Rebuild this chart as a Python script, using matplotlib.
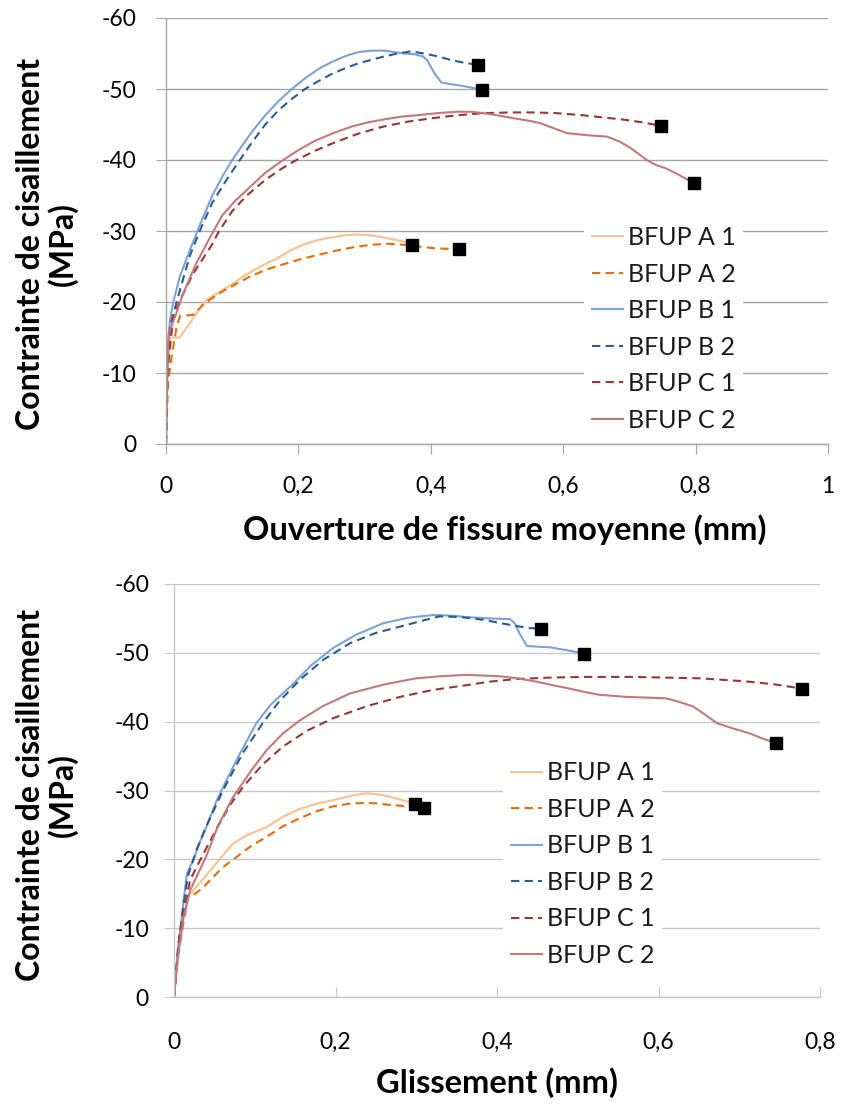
import matplotlib
matplotlib.use("Agg")
import matplotlib.pyplot as plt

plt.rcParams['font.family'] = ['Lato', 'DejaVu Sans']

# Données : ouverture de fissure moyenne (mm) / contrainte (MPa)
ouv_A1_x = [0, 0.002, 0.006, 0.021, 0.028, 0.036, 0.05, 0.061, 0.08, 0.101, 0.12, 0.137, 0.155, 0.167, 0.185,
            0.205, 0.228, 0.25, 0.27, 0.288, 0.31, 0.328, 0.345, 0.364, 0.372]
ouv_A1_y = [0, -10, -15, -15, -16, -17, -19, -20.3, -21.4, -22.6, -23.8, -24.7, -25.6, -26.1, -27.1,
            -28.0, -28.7, -29.1, -29.4, -29.5, -29.4, -29.1, -28.8, -28.4, -28.0]
ouv_A2_x = [0, 0.003, 0.008, 0.016, 0.021, 0.041, 0.055, 0.066, 0.08, 0.101, 0.125, 0.152, 0.177, 0.202,
            0.228, 0.26, 0.288, 0.315, 0.338, 0.355, 0.373, 0.403, 0.443]
ouv_A2_y = [0, -8.6, -12, -16.5, -18.0, -18.2, -19.5, -20.3, -21.2, -22.3, -23.5, -24.6, -25.3, -26.0,
            -26.6, -27.3, -27.8, -28.1, -28.2, -28.1, -27.9, -27.6, -27.4]
ouv_B1_x = [0, 0.001, 0.003, 0.006, 0.011, 0.021, 0.036, 0.05, 0.07, 0.086, 0.1, 0.115, 0.13, 0.15, 0.17,
            0.19, 0.21, 0.23, 0.25, 0.27, 0.29, 0.31, 0.33, 0.345, 0.36, 0.375, 0.388, 0.395, 0.405,
            0.416, 0.429, 0.45, 0.477]
ouv_B1_y = [0, -8, -14, -17.5, -20, -23.6, -27.3, -30.6, -35, -37.8, -40, -42, -44, -46.3, -48.3,
            -50, -51.5, -52.8, -53.8, -54.6, -55.2, -55.4, -55.4, -55.2, -55.0, -54.9, -54.6, -54.0, -52.3,
            -50.9, -50.7, -50.4, -49.9]
ouv_B2_x = [0, 0.002, 0.006, 0.014, 0.026, 0.036, 0.05, 0.07, 0.09, 0.11, 0.13, 0.15, 0.17, 0.19, 0.21,
            0.23, 0.25, 0.27, 0.29, 0.31, 0.33, 0.35, 0.37, 0.39, 0.41, 0.43, 0.45, 0.472]
ouv_B2_y = [0, -10, -16.5, -19.3, -23.3, -26.5, -29.8, -34, -37, -39.8, -42.5, -45.0, -47.0, -48.6, -50.0,
            -51.1, -52.1, -52.9, -53.6, -54.1, -54.6, -55.0, -55.3, -55.0, -54.6, -54.1, -53.7, -53.4]
ouv_C1_x = [0, 0.002, 0.011, 0.025, 0.041, 0.055, 0.069, 0.079, 0.1, 0.122, 0.15, 0.175, 0.197, 0.225,
            0.253, 0.29, 0.328, 0.365, 0.403, 0.44, 0.479, 0.52, 0.554, 0.59, 0.63, 0.66, 0.69, 0.72, 0.748]
ouv_C1_y = [0, -10, -18, -21, -24, -26, -28, -29.8, -32.8, -35, -37.2, -38.8, -40, -41.3,
            -42.4, -43.7, -44.7, -45.4, -45.9, -46.3, -46.6, -46.7, -46.7, -46.6, -46.3, -46.0, -45.7, -45.3, -44.8]
ouv_C2_x = [0, 0.002, 0.004, 0.014, 0.026, 0.046, 0.066, 0.085, 0.105, 0.127, 0.15, 0.177, 0.2, 0.225,
            0.253, 0.28, 0.305, 0.328, 0.355, 0.379, 0.41, 0.439, 0.46, 0.479, 0.5, 0.53, 0.55, 0.565,
            0.585, 0.605, 0.635, 0.666, 0.685, 0.7, 0.715, 0.726, 0.74, 0.756, 0.775, 0.792, 0.798]
ouv_C2_y = [0, -10, -15.6, -18.0, -21.2, -25.5, -29.0, -32.2, -34.3, -36.2, -38.2, -40.0, -41.4, -42.7,
            -43.8, -44.7, -45.3, -45.7, -46.1, -46.3, -46.6, -46.8, -46.8, -46.6, -46.3, -45.8, -45.5, -45.2,
            -44.5, -43.8, -43.5, -43.3, -42.6, -41.8, -40.8, -40.0, -39.3, -38.8, -37.9, -37.0, -36.7]

# Glissement (mm) / contrainte (MPa)
gli_A1_x = [0, 0.005, 0.012, 0.018, 0.024, 0.035, 0.045, 0.06, 0.073, 0.09, 0.115, 0.135, 0.155, 0.177,
            0.197, 0.218, 0.238, 0.255, 0.267, 0.283, 0.298]
gli_A1_y = [0, -7, -12, -14.8, -15.5, -17, -18.4, -20.5, -22.3, -23.5, -24.7, -26.2, -27.3, -28.1,
            -28.6, -29.2, -29.6, -29.4, -29.1, -28.6, -28.1]
gli_A2_x = [0, 0.005, 0.012, 0.018, 0.024, 0.035, 0.045, 0.06, 0.078, 0.095, 0.115, 0.135, 0.156, 0.177,
            0.197, 0.218, 0.238, 0.255, 0.267, 0.28, 0.292, 0.31]
gli_A2_y = [0, -6, -11, -14.8, -14.8, -15.8, -17.0, -18.8, -20.4, -21.9, -23.3, -24.8, -26.0, -27.0,
            -27.7, -28.1, -28.2, -28.1, -27.9, -27.8, -27.6, -27.4]
gli_B1_x = [0, 0.005, 0.012, 0.016, 0.024, 0.032, 0.040, 0.053, 0.065, 0.08, 0.102, 0.12, 0.144, 0.17,
            0.197, 0.225, 0.259, 0.29, 0.321, 0.345, 0.362, 0.39, 0.416, 0.422, 0.428, 0.437, 0.45, 0.466,
            0.49, 0.508]
gli_B1_y = [0, -7, -14.1, -18.0, -19.9, -22.5, -24.7, -28.6, -31.5, -35, -39.8, -42.5, -45.1, -48.2,
            -50.7, -52.6, -54.3, -55.1, -55.5, -55.4, -55.2, -55.0, -54.9, -54.3, -52.8, -51.0, -50.9, -50.8,
            -50.3, -49.9]
gli_B2_x = [0, 0.005, 0.012, 0.017, 0.028, 0.04, 0.061, 0.085, 0.11, 0.13, 0.156, 0.185, 0.218, 0.25,
            0.28, 0.305, 0.329, 0.355, 0.383, 0.405, 0.424, 0.44, 0.454]
gli_B2_y = [0, -7, -13.5, -17.5, -21.4, -24.8, -30.1, -35.4, -39.8, -42.9, -46.1, -49.0, -51.4, -52.9,
            -53.8, -54.6, -55.3, -55.2, -54.8, -54.3, -53.9, -53.6, -53.5]
gli_C1_x = [0, 0.007, 0.020, 0.035, 0.053, 0.07, 0.086, 0.11, 0.135, 0.165, 0.197, 0.24, 0.280, 0.32,
            0.362, 0.39, 0.424, 0.465, 0.507, 0.569, 0.651, 0.69, 0.713, 0.745, 0.778]
gli_C1_y = [0, -9.2, -17, -20.5, -24.5, -28, -30.6, -33.8, -36.4, -38.7, -40.5, -42.3, -43.6, -44.6,
            -45.3, -45.8, -46.2, -46.4, -46.5, -46.5, -46.3, -46.0, -45.8, -45.4, -44.8]
gli_C2_x = [0, 0.005, 0.012, 0.020, 0.040, 0.055, 0.073, 0.095, 0.115, 0.135, 0.156, 0.185, 0.218, 0.26,
            0.300, 0.33, 0.362, 0.403, 0.425, 0.445, 0.465, 0.486, 0.505, 0.527, 0.56, 0.609, 0.625, 0.643,
            0.658, 0.672, 0.69, 0.713, 0.73, 0.745]
gli_C2_y = [0, -6, -11.7, -15.5, -20.5, -25.0, -29.0, -32.8, -35.9, -38.3, -40.2, -42.3, -44.1, -45.4,
            -46.3, -46.6, -46.8, -46.6, -46.3, -45.9, -45.4, -44.9, -44.4, -43.9, -43.6, -43.4, -42.9, -42.2,
            -41.0, -39.8, -39.1, -38.3, -37.5, -36.9]

noms = ['BFUP A 1', 'BFUP A 2', 'BFUP B 1', 'BFUP B 2', 'BFUP C 1', 'BFUP C 2']
couleurs = ['#FAC090', '#E46C0A', '#7BA3D6', '#2C5C8E', '#953735', '#C4787A']
tirets = ['-', (0, (4, 2.5)), '-', (0, (4, 2.5)), (0, (4, 2.5)), '-']

donnees_ouv = [(ouv_A1_x, ouv_A1_y), (ouv_A2_x, ouv_A2_y), (ouv_B1_x, ouv_B1_y),
               (ouv_B2_x, ouv_B2_y), (ouv_C1_x, ouv_C1_y), (ouv_C2_x, ouv_C2_y)]
donnees_gli = [(gli_A1_x, gli_A1_y), (gli_A2_x, gli_A2_y), (gli_B1_x, gli_B1_y),
               (gli_B2_x, gli_B2_y), (gli_C1_x, gli_C1_y), (gli_C2_x, gli_C2_y)]

fig = plt.figure(figsize=(8.42, 11.04), dpi=100)
ax1 = fig.add_axes([166/842, 1-444/1104, 662/842, 426/1104])
ax2 = fig.add_axes([174/842, 1-997/1104, 646/842, 413/1104])


def tracer(ax, donnees, xmax, xticks, xlabels, gris, xdir, xpad, ypad):
    for (x, y), nom, c, ls in zip(donnees, noms, couleurs, tirets):
        ax.plot(x, y, color=c, linestyle=ls, linewidth=1.5, label=nom)
    # carrés noirs en fin de courbe
    for x, y in donnees:
        ax.plot(x[-1], y[-1], marker='s', color='black', markersize=8, linestyle='none')
    ax.set_xlim(0, xmax)
    ax.set_ylim(0, -60)
    ax.set_xticks(xticks)
    ax.set_xticklabels(xlabels)
    ax.set_yticks([0, -10, -20, -30, -40, -50, -60])
    ax.set_yticklabels(['0', '-10', '-20', '-30', '-40', '-50', '-60'])
    ax.grid(axis='y', color=gris, linewidth=1)
    ax.set_axisbelow(True)
    for s in ['top', 'right']:
        ax.spines[s].set_visible(False)
    for s in ['left', 'bottom']:
        ax.spines[s].set_color(gris)
        ax.spines[s].set_linewidth(1)
    ax.tick_params(axis='y', direction='out', length=7, color=gris, labelsize=16.5, pad=ypad)
    ax.tick_params(axis='x', direction=xdir, length=7, color=gris, labelsize=16.5, pad=xpad)


tracer(ax1, donnees_ouv, 1, [0, 0.2, 0.4, 0.6, 0.8, 1],
       ['0', '0,2', '0,4', '0,6', '0,8', '1'], '#A6A6A6', 'out', 16, 14)
tracer(ax2, donnees_gli, 0.8, [0, 0.2, 0.4, 0.6, 0.8],
       ['0', '0,2', '0,4', '0,6', '0,8'], '#C8C8C8', 'in', 25, 11)

ax1.set_xlabel('Ouverture de fissure moyenne (mm)', fontsize=23.5, fontweight='bold', va='center')
ax1.xaxis.set_label_coords(0.512, -0.202)
ax2.set_xlabel('Glissement (mm)', fontsize=23.5, fontweight='bold', va='center')
ax2.xaxis.set_label_coords(0.5, -0.208)

for ax, xl, yl in [(ax1, -0.18, 0.47), (ax2, -0.197, 0.49)]:
    ax.set_ylabel('Contrainte de cisaillement\n(MPa)', fontsize=23, fontweight='bold',
                  va='center', linespacing=1.1)
    ax.yaxis.set_label_coords(xl, yl)

for ax, pos in [(ax1, (0.752, 0.27)), (ax2, (0.633, 0.322))]:
    leg = ax.legend(loc='center', bbox_to_anchor=pos, fontsize=18, frameon=True,
                    framealpha=1, edgecolor='none', facecolor='white', fancybox=False,
                    handlelength=1.25, handletextpad=0.2, labelspacing=0.54, borderpad=0.3)
    for t in leg.get_texts():
        t.set_color('#1a1a1a')

fig.savefig('out.png', dpi=100)
